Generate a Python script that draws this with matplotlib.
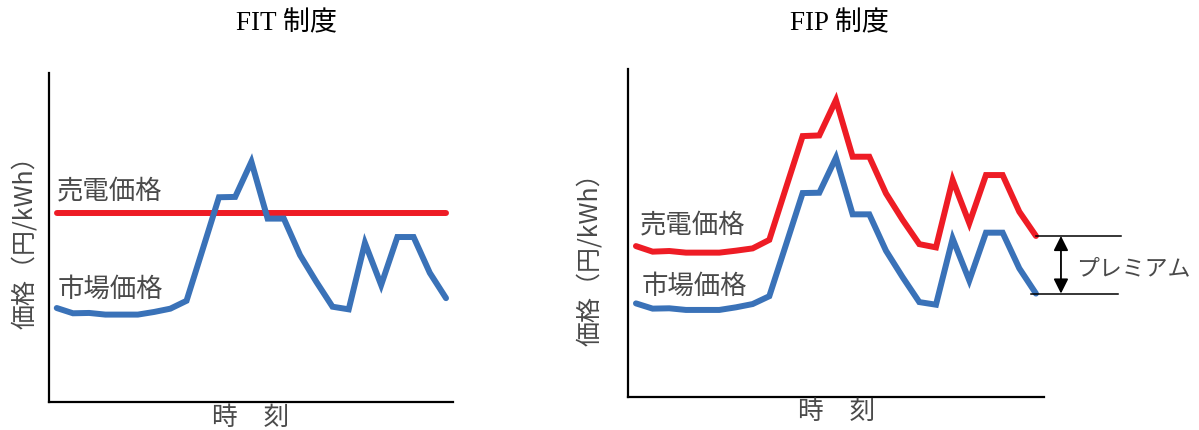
import matplotlib
matplotlib.use("Agg")
import matplotlib.pyplot as plt
import numpy as np

plt.rcParams['font.family'] = ['Noto Sans CJK JP', 'DejaVu Sans']

# ---- data ----
time_steps = list(range(25))
market_price = [28.5, 26.9, 27.0, 26.5, 26.5, 26.5, 27.3, 28.3, 30.7, 46.4,
                62.2, 62.3, 73.0, 55.7, 55.7, 44.6, 36.5, 28.9, 28.1, 48.3,
                35.5, 50.1, 50.1, 39.2, 31.5]
fit_sale_price = [57.5] * 25
fip_sale_price = [46.0, 44.3, 44.5, 44.0, 44.0, 44.0, 44.6, 45.3, 47.9, 63.8,
                  79.6, 79.8, 90.6, 73.3, 73.3, 62.1, 54.0, 46.6, 45.6, 66.2,
                  53.0, 67.7, 67.7, 56.5, 49.1]
titles = ["FIT 制度", "FIP 制度"]
sale_label = "売電価格"
market_label = "市場価格"
ylabel = "価格（円/kWh）"
xlabel = "時　刻"
premium_label = "プレミアム"

BLUE = '#3a72b8'
RED = '#ee1c25'
TXT = '#4a4a4a'
W, H = 1199, 430

fig = plt.figure(figsize=(W / 100, H / 100), dpi=100)

def fx(px):
    return px / W

def fy(py):
    return 1 - py / H

def make_axes(l, t, r, b):
    ax = fig.add_axes([fx(l), fy(b), fx(r) - fx(l), (b - t) / H])
    for s in ['top', 'right']:
        ax.spines[s].set_visible(False)
    for s in ['left', 'bottom']:
        ax.spines[s].set_linewidth(1.6)
        ax.spines[s].set_color('black')
    ax.set_xticks([])
    ax.set_yticks([])
    ax.set_ylim(0, 100)
    return ax

lw = 4.3
# ---- FIT ----
ax1 = make_axes(49.3, 73, 453, 401.7)
ax1.set_xlim(-0.46, 24.43)
ax1.plot(time_steps, fit_sale_price, color=RED, lw=lw, solid_capstyle='round')
ax1.plot(time_steps, market_price, color=BLUE, lw=lw, solid_capstyle='round',
         solid_joinstyle='miter')

# ---- FIP ----
ax2 = make_axes(628.3, 69.3, 1044.3, 396.7)
ax2.set_xlim(-0.46, 24.5)
ax2.plot(time_steps, fip_sale_price, color=RED, lw=lw, solid_capstyle='round',
         solid_joinstyle='miter')
ax2.plot(time_steps, market_price, color=BLUE, lw=lw, solid_capstyle='round',
         solid_joinstyle='miter')

# premium annotation
top_y = fip_sale_price[-1]
bot_y = market_price[-1]
ax2.plot([24.0, 29.1], [top_y, top_y], color='black', lw=1.1, clip_on=False)
ax2.plot([23.7, 28.9], [bot_y, bot_y], color='black', lw=1.1, clip_on=False)
ax2.annotate('', xy=(25.5, top_y), xytext=(25.5, bot_y),
             arrowprops=dict(arrowstyle='<|-|>', color='black', lw=1.3,
                             mutation_scale=22, shrinkA=0, shrinkB=0),
             annotation_clip=False)
fig.text(fx(1076), fy(268.3), premium_label, fontsize=16.5, color=TXT,
         ha='left', va='center')

# series labels
fs = 19
fig.text(fx(57), fy(190.7), sale_label, fontsize=fs, color=TXT, ha='left', va='center')
fig.text(fx(57.5), fy(289.3), market_label, fontsize=fs, color=TXT, ha='left', va='center')
fig.text(fx(640), fy(225), sale_label, fontsize=fs, color=TXT, ha='left', va='center')
fig.text(fx(642), fy(286.7), market_label, fontsize=fs, color=TXT, ha='left', va='center')

# axis labels
fig.text(fx(25), fy(235.7), ylabel, fontsize=18, color=TXT, rotation=90,
         ha='center', va='center')
fig.text(fx(590), fy(253), ylabel, fontsize=18, color=TXT, rotation=90,
         ha='center', va='center')
fig.text(fx(250.8), fy(418), xlabel, fontsize=18.5, color=TXT, ha='center', va='center')
fig.text(fx(836.5), fy(411.7), xlabel, fontsize=18.5, color=TXT, ha='center', va='center')

# titles
tfam = ['Liberation Serif', 'Noto Sans CJK JP']
fig.text(fx(286.7), fy(24), titles[0], fontsize=19.5, color='black',
         ha='center', va='center', family=tfam)
fig.text(fx(839.5), fy(24), titles[1], fontsize=19.5, color='black',
         ha='center', va='center', family=tfam)

fig.savefig('out.png', dpi=100)
